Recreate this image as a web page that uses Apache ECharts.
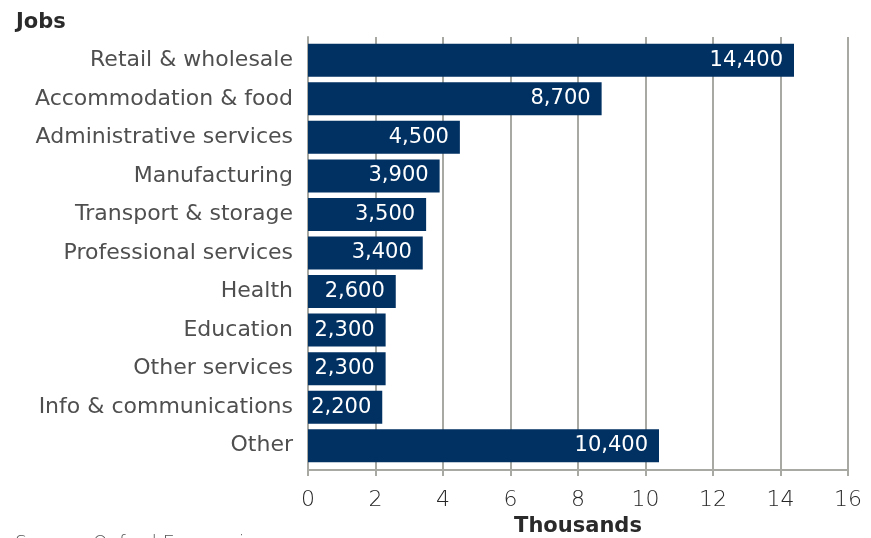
<!DOCTYPE html>
<html>
<head>
<meta charset="utf-8">
<script src="https://cdn.jsdelivr.net/npm/echarts@6/dist/echarts.min.js"></script>
<style>
  html, body { margin: 0; padding: 0; background: #fff; }
  #chart { width: 871px; height: 538px; }
</style>
</head>
<body>
<div id="chart"></div>
<script>
// Jobs by sector (number of jobs)
const categories = [
  'Retail & wholesale', 'Accommodation & food', 'Administrative services',
  'Manufacturing', 'Transport & storage', 'Professional services',
  'Health', 'Education', 'Other services', 'Info & communications', 'Other'
];
const jobs = [14400, 8700, 4500, 3900, 3500, 3400, 2600, 2300, 2300, 2200, 10400];
const xTicks = [0, 2000, 4000, 6000, 8000, 10000, 12000, 14000, 16000];

const FONT = 'DejaVu Sans';
const TEXT = '#4f4f4f';
const BAR = '#003162';
const GRID = '#a9a9a4';
const X_MIN = xTicks[0];
const X_MAX = xTicks[xTicks.length - 1];
const X_STEP = xTicks[1] - xTicks[0];

const chart = echarts.init(document.getElementById('chart'), null, { renderer: 'canvas' });

chart.setOption({
  animation: false,
  backgroundColor: '#ffffff',
  textStyle: { fontFamily: FONT },
  title: [
    {
      text: 'Jobs', left: 11, top: 7,
      textStyle: { fontFamily: FONT, fontWeight: 'bold', fontSize: 21, color: '#2a2a2a' }
    },
    {
      text: 'Source: Oxford Economics', left: 10, top: 530,
      textStyle: { fontFamily: FONT, fontWeight: 200, fontSize: 19, color: '#555' }
    }
  ],
  // grid 0: frame, gridlines and value axis; grid 1: bars and category labels
  grid: [
    { left: 308, right: 23, top: 37, bottom: 68, containLabel: false, outerBoundsMode: 'none' },
    { left: 308, right: 23, top: 41, bottom: 73, containLabel: false, outerBoundsMode: 'none' }
  ],
  xAxis: [
    {
      gridIndex: 0,
      type: 'value',
      min: X_MIN, max: X_MAX, interval: X_STEP,
      name: 'Thousands',
      nameLocation: 'middle',
      nameGap: 45,
      nameTextStyle: { fontFamily: FONT, fontWeight: 'bold', fontSize: 21, color: '#2a2a2a' },
      axisLine: { show: true, lineStyle: { color: GRID, width: 2 } },
      axisTick: { show: true, length: 6, lineStyle: { color: GRID, width: 2 } },
      axisLabel: {
        fontFamily: FONT, fontWeight: 200, fontSize: 22, color: '#262626', margin: 19,
        formatter: v => String(v / 1000)
      },
      splitLine: { show: true, lineStyle: { color: GRID, width: 2 } }
    },
    {
      gridIndex: 1,
      type: 'value',
      min: X_MIN, max: X_MAX, interval: X_STEP,
      show: false
    }
  ],
  yAxis: [
    {
      gridIndex: 0,
      type: 'category',
      data: categories,
      inverse: true,
      axisLine: { show: true, lineStyle: { color: GRID, width: 2 } },
      axisTick: { show: false },
      axisLabel: { show: false }
    },
    {
      gridIndex: 1,
      type: 'category',
      data: categories,
      inverse: true,
      axisLine: { show: false },
      axisTick: { show: false },
      axisLabel: {
        fontFamily: FONT, fontWeight: 'normal', fontSize: 22, color: TEXT, margin: 15
      }
    }
  ],
  series: [{
    type: 'bar',
    xAxisIndex: 1,
    yAxisIndex: 1,
    data: jobs,
    barWidth: 33,
    itemStyle: { color: BAR },
    label: {
      show: true,
      position: 'insideRight',
      distance: 11,
      color: '#ffffff',
      fontFamily: FONT,
      fontWeight: 'normal',
      fontSize: 21,
      formatter: p => p.value.toLocaleString('en-US')
    }
  }]
});
</script>
</body>
</html>
